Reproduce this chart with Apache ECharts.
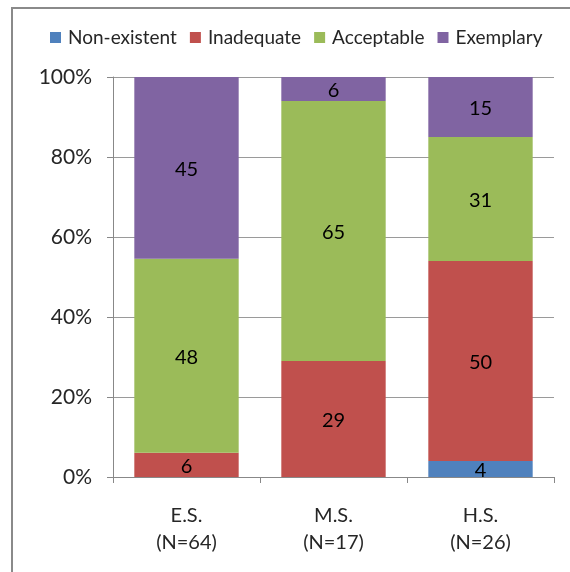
<!DOCTYPE html>
<html>
<head>
<meta charset="utf-8">
<style>
  html, body { margin: 0; padding: 0; background: #fff; }
  #chart { width: 570px; height: 572px; }
</style>
<script src="https://cdn.jsdelivr.net/npm/echarts@6/dist/echarts.min.js"></script>
</head>
<body>
<div id="chart"></div>
<script>
// School levels and counts of ratings per level
const categories = ['E.S.\n(N=64)', 'M.S.\n(N=17)', 'H.S.\n(N=26)'];
const nonExistent = [0, 0, 4];
const inadequate = [6, 29, 50];
const acceptable = [48, 65, 31];
const exemplary = [45, 6, 15];
const yTicks = ['0%', '20%', '40%', '60%', '80%', '100%'];

const seriesDefs = [
  { name: 'Non-existent', values: nonExistent, color: '#4F81BD' },
  { name: 'Inadequate', values: inadequate, color: '#C0504D' },
  { name: 'Acceptable', values: acceptable, color: '#9BBB59' },
  { name: 'Exemplary', values: exemplary, color: '#8064A2' }
];

// column totals for the 100% stacking
const totals = categories.map((_, i) =>
  seriesDefs.reduce((s, d) => s + d.values[i], 0));

const FONT = 'Lato, "Open Sans", sans-serif';

const chart = echarts.init(document.getElementById('chart'));
chart.setOption({
  animation: false,
  textStyle: { fontFamily: FONT },
  graphic: [{
    type: 'rect',
    shape: { x: 12, y: 8, width: 620, height: 620 },
    style: { fill: 'none', stroke: '#8a8a8a', lineWidth: 2 },
    silent: true
  }],
  legend: {
    top: 23,
    left: 45,
    itemWidth: 11,
    itemHeight: 11,
    itemGap: 13,
    icon: 'rect',
    textStyle: { fontSize: 19, color: '#262626', fontFamily: FONT, padding: [0, 0, 0, 2] },
    data: seriesDefs.map(d => d.name)
  },
  grid: { left: 113, right: 16, top: 77, bottom: 95, containLabel: false },
  xAxis: {
    type: 'category',
    data: categories,
    axisLine: { lineStyle: { color: '#888', width: 1 } },
    axisTick: { show: true, length: 6, lineStyle: { color: '#888' } },
    axisLabel: {
      fontSize: 20, color: '#262626', lineHeight: 27, margin: 25, fontFamily: FONT
    }
  },
  yAxis: {
    type: 'value',
    min: 0,
    max: 100,
    interval: 20,
    axisLine: { show: true, lineStyle: { color: '#888' } },
    axisTick: { show: true, length: 6, lineStyle: { color: '#888' } },
    splitLine: { show: true, lineStyle: { color: '#9a9a9a', width: 1 } },
    axisLabel: {
      fontSize: 21, color: '#262626', margin: 21, fontFamily: FONT,
      formatter: v => yTicks[Math.round(v / 20)]
    }
  },
  series: seriesDefs.map(d => ({
    name: d.name,
    type: 'bar',
    stack: 'total',
    barWidth: '71%',
    itemStyle: { color: d.color },
    data: d.values.map((v, i) => ({ value: v / totals[i] * 100, raw: v })),
    label: {
      show: true,
      position: 'inside',
      fontSize: 20,
      color: '#000',
      fontFamily: FONT,
      offset: [0, 2],
      formatter: p => (p.data.raw ? String(p.data.raw) : '')
    }
  }))
});
</script>
</body>
</html>
